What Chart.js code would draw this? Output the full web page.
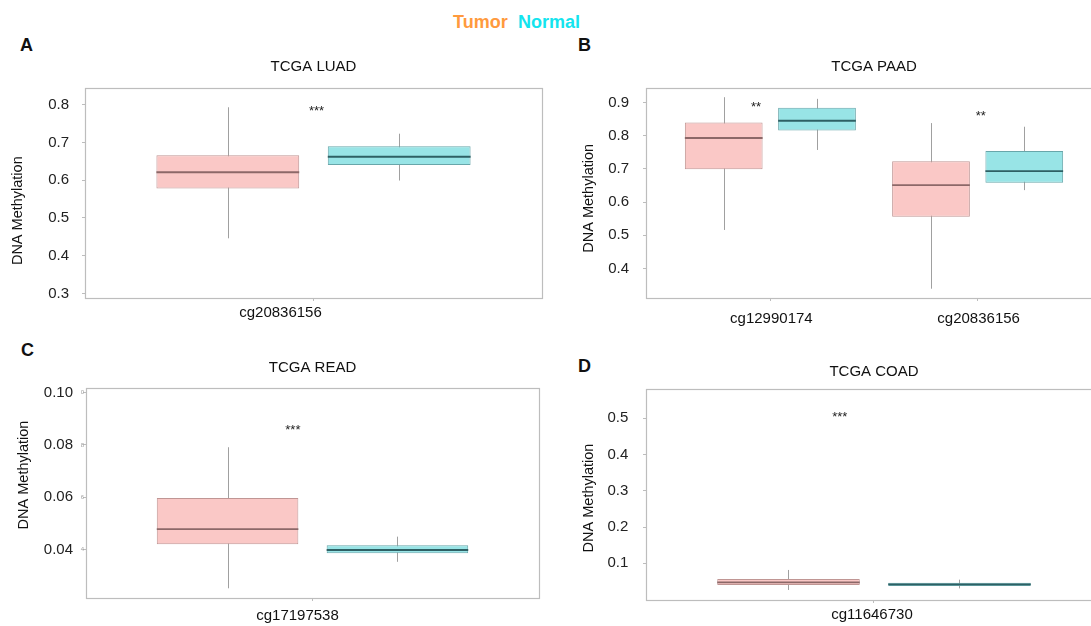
<!DOCTYPE html>
<html><head><meta charset="utf-8">
<script src="https://cdn.jsdelivr.net/npm/chart.js@4.4.1/dist/chart.umd.min.js"></script>
<style>
html,body{margin:0;padding:0;background:#fff;overflow:hidden;width:1091px;height:626px;}
#wrap{position:relative;width:1091px;height:626px;overflow:hidden;background:#fff;}
canvas{position:absolute;}
.lbl{position:absolute;font-family:'Liberation Sans',Arial,sans-serif;font-weight:bold;font-size:18px;line-height:18px;white-space:nowrap;}
</style></head><body>
<div id="wrap">
  <div class="lbl" style="left:453px;top:13px;color:#FF9A3D">Tumor</div>
  <div class="lbl" style="left:518px;top:13px;color:#14E4EE">Normal</div>
  <div class="lbl" style="left:20px;top:36px;color:#111">A</div>
  <div class="lbl" style="left:578px;top:36px;color:#111">B</div>
  <div class="lbl" style="left:21px;top:341px;color:#111">C</div>
  <div class="lbl" style="left:578px;top:357px;color:#111">D</div>
  <canvas id="cA" width="545" height="330" style="left:0px;top:0px"></canvas>
  <canvas id="cB" width="557" height="330" style="left:545px;top:0px"></canvas>
  <canvas id="cC" width="545" height="296" style="left:0px;top:330px"></canvas>
  <canvas id="cD" width="557" height="296" style="left:545px;top:330px"></canvas>
</div>
<script>
// ---------- data: five-number summaries [min, q1, median, q3, max] ----------
const groups = ['Tumor', 'Normal'];
const yTitle = 'DNA Methylation';

const luadCategories = ['cg20836156'];
const luadTumor  = [[0.446, 0.578, 0.621, 0.666, 0.793]];
const luadNormal = [[0.599, 0.640, 0.662, 0.690, 0.723]];
const luadTicks = [0.3, 0.4, 0.5, 0.6, 0.7, 0.8];
const luadTickLabels = ['0.3', '0.4', '0.5', '0.6', '0.7', '0.8'];
const luadSig = ['***'];

const paadCategories = ['cg12990174', 'cg20836156'];
const paadTumor  = [[0.516, 0.699, 0.793, 0.840, 0.916], [0.339, 0.556, 0.651, 0.723, 0.838]];
const paadNormal = [[0.757, 0.816, 0.845, 0.884, 0.911], [0.636, 0.658, 0.693, 0.754, 0.827]];
const paadTicks = [0.4, 0.5, 0.6, 0.7, 0.8, 0.9];
const paadTickLabels = ['0.4', '0.5', '0.6', '0.7', '0.8', '0.9'];
const paadSig = ['**', '**'];

const readCategories = ['cg17197538'];
const readTumor  = [[0.0253, 0.0421, 0.0479, 0.0597, 0.0791]];
const readNormal = [[0.0354, 0.0387, 0.0399, 0.0417, 0.0450]];
const readTicks = [0.04, 0.06, 0.08, 0.10];
const readTickLabels = ['0.04', '0.06', '0.08', '0.10'];
const readMiniTickLabels = ['4', '6', '8', '0'];
const readSig = ['***'];

const coadCategories = ['cg11646730'];
const coadTumor  = [[0.0266, 0.0404, 0.0476, 0.0570, 0.0818]];
const coadNormal = [[0.0310, 0.0377, 0.0420, 0.0468, 0.0550]];
const coadTicks = [0.1, 0.2, 0.3, 0.4, 0.5];
const coadTickLabels = ['0.1', '0.2', '0.3', '0.4', '0.5'];
const coadSig = ['***'];

// ---------- styling / layout ----------
Chart.defaults.font.family = "'Liberation Sans', Arial, sans-serif";
const FONT = "'Liberation Sans', Arial, sans-serif";
const colors = {
  Tumor:  {fill: 'rgb(250,200,198)', border: 'rgb(192,150,148)', median: 'rgb(140,104,104)', whisker: 'rgb(160,160,160)'},
  Normal: {fill: 'rgb(152,228,230)', border: 'rgb(104,166,170)', median: 'rgb(46,96,100)',  whisker: 'rgb(160,160,160)'}
};

const panels = [
  {id:'cA', title:'TCGA LUAD', cats:luadCategories, tumor:luadTumor, normal:luadNormal,
   ticks:luadTicks, tickLabels:luadTickLabels, yMin:0.288, yMax:0.844,
   sig:luadSig, sigX:[1.008], sigY:[0.792],
   padRight:3, yW:85, xH:32, tPadTop:58, tPadBot:12, yTickPad:13, xTickPad:3, labelOffset:-33,
   yTitleX:18, yTitleY:210.7, xMax:1.6},
  {id:'cB', title:'TCGA PAAD', cats:paadCategories, tumor:paadTumor, normal:paadNormal,
   ticks:paadTicks, tickLabels:paadTickLabels, yMin:0.311, yMax:0.9437,
   sig:paadSig, sigX:[0.931, 2.015], sigY:[0.898, 0.870],
   padRight:0, yW:101, xH:32, tPadTop:58, tPadBot:12, yTickPad:14, xTickPad:9, labelOffset:1,
   yTitleX:44, yTitleY:198.3, xMax:2.6},
  {id:'cC', title:'TCGA READ', cats:readCategories, tumor:readTumor, normal:readNormal,
   ticks:readTicks, tickLabels:readTickLabels, mini:readMiniTickLabels, yMin:0.0216, yMax:0.1018,
   sig:readSig, sigX:[0.948], sigY:[0.087],
   padRight:6, yW:86, xH:28, tPadTop:29, tPadBot:10.7, yTickPad:10, xTickPad:6, labelOffset:-15,
   yTitleX:23.7, yTitleY:145, xMax:1.6},
  {id:'cD', title:'TCGA COAD', cats:coadCategories, tumor:coadTumor, normal:coadNormal,
   ticks:coadTicks, tickLabels:coadTickLabels, yMin:-0.001, yMax:0.581,
   sig:coadSig, sigX:[0.91], sigY:[0.514],
   padRight:0, yW:101, xH:26, tPadTop:33, tPadBot:7.7, yTickPad:14.7, xTickPad:3, labelOffset:-2,
   yTitleX:44, yTitleY:168, xMax:1.6}
];

const boxExtras = {
  id: 'boxExtras',
  beforeDatasetsDraw(chart) {
    const {ctx, scales: {y}} = chart;
    chart.data.datasets.forEach((ds, di) => {
      const meta = chart.getDatasetMeta(di);
      meta.data.forEach((el, i) => {
        const s = ds.stats[i];
        const x = Math.round(el.x) + 0.5;
        ctx.save();
        ctx.strokeStyle = ds.whiskerColor;
        ctx.lineWidth = 1;
        ctx.beginPath();
        ctx.moveTo(x, y.getPixelForValue(s[0]));
        ctx.lineTo(x, y.getPixelForValue(s[4]));
        ctx.stroke();
        ctx.restore();
      });
    });
  },
  afterDatasetsDraw(chart) {
    const {ctx, scales: {x, y}} = chart;
    const p = chart.options.plugins.boxExtras;
    // medians
    chart.data.datasets.forEach((ds, di) => {
      const meta = chart.getDatasetMeta(di);
      meta.data.forEach((el, i) => {
        const s = ds.stats[i];
        const yy = y.getPixelForValue(s[2]);
        ctx.save();
        ctx.strokeStyle = ds.medianColor;
        ctx.lineWidth = 1.8;
        ctx.beginPath();
        ctx.moveTo(el.x - el.width / 2, yy);
        ctx.lineTo(el.x + el.width / 2, yy);
        ctx.stroke();
        ctx.restore();
      });
    });
    // significance stars
    ctx.save();
    ctx.fillStyle = '#222';
    ctx.font = '13px ' + FONT;
    ctx.textAlign = 'center';
    ctx.textBaseline = 'alphabetic';
    p.sig.forEach((t, i) => {
      ctx.fillText(t, x.getPixelForValue(p.sigX[i]), y.getPixelForValue(p.sigY[i]) + 7.5);
    });
    ctx.restore();
  },
  afterDraw(chart) {
    const {ctx, chartArea: a, scales: {y}} = chart;
    const p = chart.options.plugins.boxExtras;
    // frame
    ctx.save();
    ctx.strokeStyle = '#bdbdbd';
    ctx.lineWidth = 1.2;
    ctx.strokeRect(Math.round(a.left) + 0.5, Math.round(a.top) + 0.5, Math.round(a.right - a.left), Math.round(a.bottom - a.top));
    ctx.restore();
    // y title
    ctx.save();
    ctx.translate(p.yTitleX, p.yTitleY);
    ctx.rotate(-Math.PI / 2);
    ctx.fillStyle = '#111';
    ctx.font = '14.5px ' + FONT;
    ctx.textAlign = 'center';
    ctx.textBaseline = 'middle';
    ctx.fillText(yTitle, 0, 0);
    ctx.restore();
    // tiny residual tick labels (panel C)
    if (p.mini) {
      ctx.save();
      ctx.fillStyle = '#a0a0a0';
      ctx.font = '6px ' + FONT;
      ctx.textAlign = 'right';
      ctx.textBaseline = 'middle';
      p.ticks.forEach((v, i) => ctx.fillText(p.mini[i], a.left - 2, y.getPixelForValue(v)));
      ctx.restore();
    }
  }
};

panels.forEach(p => {
  const n = p.cats.length;
  const xMin = 0.4;
  const catPct = 0.9 / (n > 1 ? 1 : (p.xMax - xMin));
  const mk = (g, stats) => ({
    label: g,
    data: p.cats.map((c, i) => ({x: i + 1, y: [stats[i][1], stats[i][3]]})),
    stats: stats,
    backgroundColor: colors[g].fill,
    borderColor: colors[g].border,
    medianColor: colors[g].median,
    whiskerColor: colors[g].whisker,
    borderWidth: 1,
    borderSkipped: false,
    categoryPercentage: catPct,
    barPercentage: 0.8333
  });
  new Chart(document.getElementById(p.id), {
    type: 'bar',
    data: {datasets: [mk(groups[0], p.tumor), mk(groups[1], p.normal)]},
    options: {
      responsive: false,
      animation: false,
      devicePixelRatio: 1,
      layout: {padding: {left: 0, right: p.padRight, top: 0, bottom: 0}},
      plugins: {
        legend: {display: false},
        tooltip: {enabled: false},
        title: {display: true, text: p.title, fullSize: false, color: '#111',
                font: {size: 15, weight: 'normal'}, padding: {top: p.tPadTop, bottom: p.tPadBot}},
        boxExtras: p
      },
      scales: {
        x: {
          type: 'linear', min: xMin, max: p.xMax, offset: false,
          afterBuildTicks: s => { s.ticks = p.cats.map((c, i) => ({value: i + 1})); },
          afterFit: s => { s.height = p.xH; },
          ticks: {callback: (v, i) => p.cats[i], autoSkip: false, maxRotation: 0, minRotation: 0,
                  padding: p.xTickPad, labelOffset: p.labelOffset, color: '#111', font: {size: 15}},
          grid: {offset: false, drawOnChartArea: false, drawTicks: true, tickLength: 3, color: '#bdbdbd'},
          border: {display: false}
        },
        y: {
          min: p.yMin, max: p.yMax,
          afterBuildTicks: s => { s.ticks = p.ticks.map(v => ({value: v})); },
          afterFit: s => { s.width = p.yW; },
          ticks: {callback: (v, i) => p.tickLabels[i], autoSkip: false, padding: p.yTickPad,
                  color: '#222', font: {size: 15}},
          grid: {drawOnChartArea: false, drawTicks: true, tickLength: 3, color: '#bdbdbd'},
          border: {display: false}
        }
      }
    },
    plugins: [boxExtras]
  });
});
</script>
</body></html>
